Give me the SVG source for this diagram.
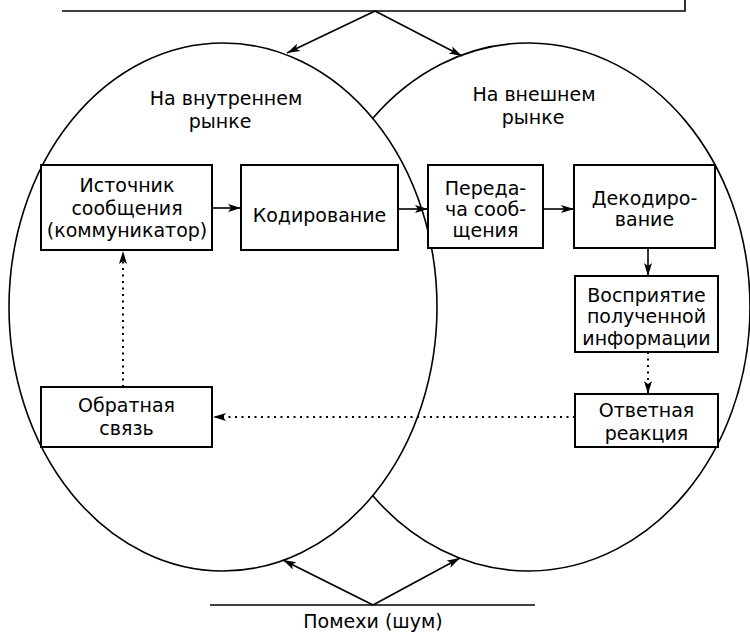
<svg xmlns="http://www.w3.org/2000/svg" width="750" height="633" viewBox="0 0 750 633">
<style>
.box{fill:#fff;stroke:#000;stroke-width:2}
.t{font-family:"DejaVu Sans","Liberation Sans",sans-serif;font-size:19px;fill:#000;text-anchor:middle}
.ln{stroke:#000;stroke-width:1.6;fill:none}
.dot{stroke:#000;stroke-width:2;fill:none;stroke-dasharray:2 4.5}
.ell{fill:none;stroke:#000;stroke-width:1.6}
</style>
<defs>
<marker id="ah" markerUnits="userSpaceOnUse" markerWidth="14" markerHeight="10" refX="13" refY="5" orient="auto"><path d="M0,1 L13,5 L0,9 L3,5 Z" fill="#000"/></marker>
</defs>
<rect width="750" height="633" fill="#fff"/>
<g id="markets">
<ellipse class="ell" cx="223" cy="307" rx="214" ry="264"/>
<path class="ell" d="M372.4,118.7 A222,264 0 1 1 372.4,495.3"/>
<text class="t" x="226" y="105">На внутреннем</text>
<text class="t" x="220" y="128">рынке</text>
<text class="t" x="534" y="101">На внешнем</text>
<text class="t" x="533" y="124">рынке</text>
</g>
<g id="connectors">
<path class="ln" d="M62,11 H685 V0" stroke-width="2"/>
<path class="ln" d="M375,11 L287,53" marker-end="url(#ah)"/>
<path class="ln" d="M375,11 L462,56" marker-end="url(#ah)"/>
<path class="ln" d="M210,605 H535" stroke-width="2"/>
<path class="ln" d="M373,605 L283,560" marker-end="url(#ah)"/>
<path class="ln" d="M373,605 L460,558" marker-end="url(#ah)"/>
<path class="ln" d="M213,208 H241" marker-end="url(#ah)"/>
<path class="ln" d="M398,209 H428" marker-end="url(#ah)"/>
<path class="ln" d="M543,209 H574" marker-end="url(#ah)"/>
<path class="ln" d="M648,248 V276" marker-end="url(#ah)"/>
<path class="dot" d="M648,352 V394" marker-end="url(#ah)"/>
<path class="dot" d="M575,417 H213" marker-end="url(#ah)"/>
<path class="dot" d="M123,387 V251" marker-end="url(#ah)"/>
</g>
<g id="source">
<rect class="box" x="41" y="165" width="171" height="85"/>
<text class="t" x="127" y="192">Источник</text>
<text class="t" x="127" y="215">сообщения</text>
<text class="t" x="127" y="237">(коммуникатор)</text>
</g>
<g id="coding">
<rect class="box" x="241" y="165" width="157" height="85"/>
<text class="t" x="319.5" y="222">Кодирование</text>
</g>
<g id="transfer">
<rect class="box" x="428" y="165" width="115" height="83"/>
<text class="t" x="485.5" y="195">Переда-</text>
<text class="t" x="485.5" y="216">ча сооб-</text>
<text class="t" x="485.5" y="237">щения</text>
</g>
<g id="decoding">
<rect class="box" x="574" y="165" width="141" height="83"/>
<text class="t" x="644.5" y="205">Декодиро-</text>
<text class="t" x="644.5" y="226">вание</text>
</g>
<g id="perception">
<rect class="box" x="575" y="276" width="143" height="76"/>
<text class="t" x="646.5" y="302">Восприятие</text>
<text class="t" x="646.5" y="323">полученной</text>
<text class="t" x="646.5" y="345">информации</text>
</g>
<g id="response">
<rect class="box" x="575" y="394" width="143" height="53"/>
<text class="t" x="646.5" y="417">Ответная</text>
<text class="t" x="646.5" y="440">реакция</text>
</g>
<g id="feedback">
<rect class="box" x="41" y="387" width="171" height="60"/>
<text class="t" x="126.5" y="412">Обратная</text>
<text class="t" x="126.5" y="435">связь</text>
</g>
<g id="noise">
<text class="t" x="373" y="628">Помехи (шум)</text>
</g>
</svg>
